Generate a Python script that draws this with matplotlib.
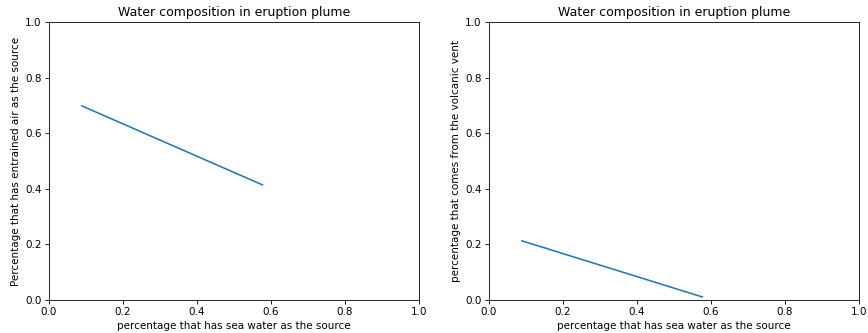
import matplotlib
matplotlib.use("Agg")
import matplotlib.pyplot as plt

sea_water = [0.089, 0.577]
entrained_air = [0.698, 0.414]
volcanic_vent = [0.213, 0.011]

title = "Water composition in eruption plume"
xlabel = "percentage that has sea water as the source"
ylabel_left = "Percentage that has entrained air as the source"
ylabel_right = "percentage that comes from the volcanic vent"

DPI = 75
fig, (ax1, ax2) = plt.subplots(1, 2, figsize=(868 / DPI, 333 / DPI), dpi=DPI)
fig.subplots_adjust(left=0.0565, right=0.9895, top=0.934, bottom=0.099, wspace=0.189)

ax1.plot(sea_water, entrained_air)
ax1.set_xlim(0, 1)
ax1.set_ylim(0, 1)
ax1.set_title(title)
ax1.set_xlabel(xlabel)
ax1.set_ylabel(ylabel_left)

ax2.plot(sea_water, volcanic_vent)
ax2.set_xlim(0, 1)
ax2.set_ylim(0, 1)
ax2.set_title(title)
ax2.set_xlabel(xlabel)
ax2.set_ylabel(ylabel_right)

fig.savefig("out.png", dpi=DPI)
